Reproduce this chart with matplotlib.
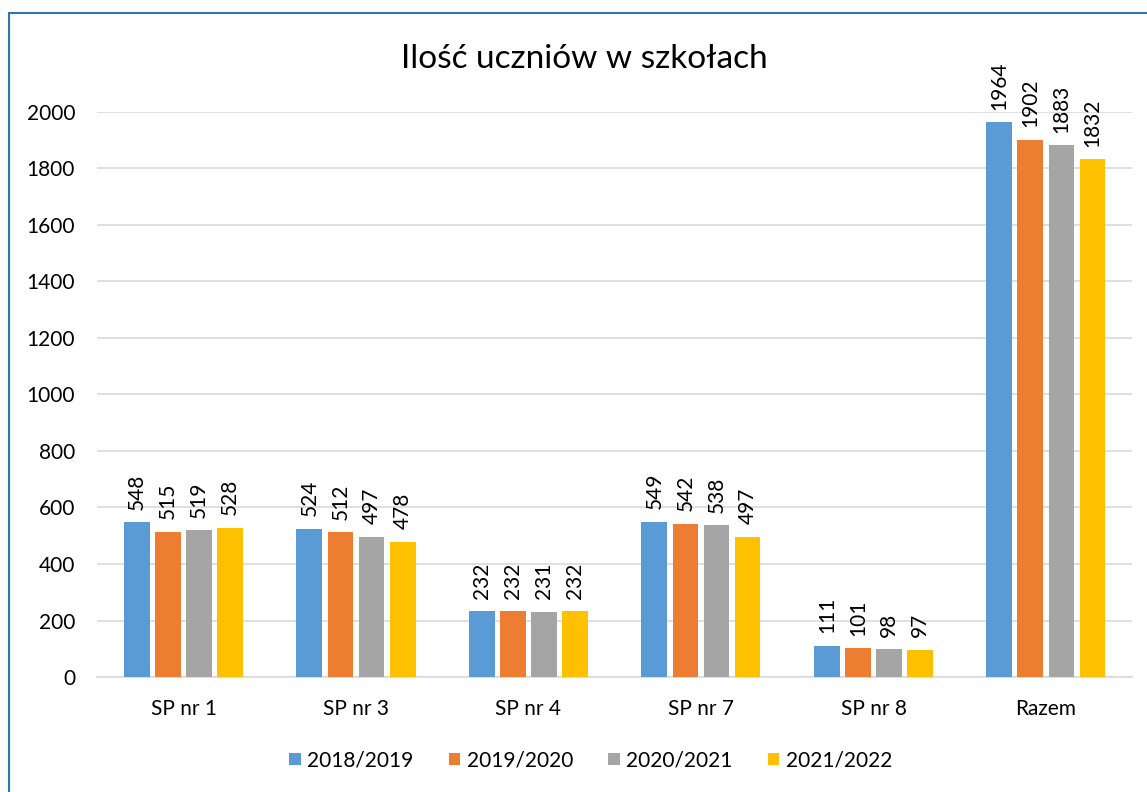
import numpy as np
import matplotlib.pyplot as plt
from matplotlib.patches import Rectangle

plt.rcParams['font.family'] = ['Lato', 'DejaVu Sans']

schools = ['SP nr 1', 'SP nr 3', 'SP nr 4', 'SP nr 7', 'SP nr 8', 'Razem']
years = ['2018/2019', '2019/2020', '2020/2021', '2021/2022']
v2018 = [548, 524, 232, 549, 111, 1964]
v2019 = [515, 512, 232, 542, 101, 1902]
v2020 = [519, 497, 231, 538, 98, 1883]
v2021 = [528, 478, 232, 497, 97, 1832]
colors = ['#5b9bd5', '#ed7d31', '#a5a5a5', '#ffc000']

series = [v2018, v2019, v2020, v2021]

fig = plt.figure(figsize=(11.47, 7.92), dpi=100)
ax = fig.add_axes([0.0848, 0.1452, 0.9023, 0.7134])

x = np.arange(len(schools))
w = 0.15
step = 0.18
for i, (vals, col, lab) in enumerate(zip(series, colors, years)):
    pos = x + (i - 1.5) * step
    bars = ax.bar(pos, vals, width=w, color=col, label=lab, zorder=3)
    for b, v in zip(bars, vals):
        ax.annotate(str(v), (b.get_x() + b.get_width() / 2, v), xytext=(0, 9),
                    textcoords='offset points', rotation=90, ha='center', va='bottom',
                    fontsize=15, color='#000000', annotation_clip=False)

ax.set_xlim(-0.5, len(schools) - 0.5)
ax.set_ylim(0, 2000)
ax.set_yticks(range(0, 2001, 200))
ax.set_xticks(x)
ax.set_xticklabels(schools)
ax.tick_params(axis='both', length=0, labelsize=15, colors='#000000')
ax.tick_params(axis='x', pad=16)
ax.tick_params(axis='y', pad=16)
ax.grid(axis='y', color='#d9d9d9', linewidth=1.2, zorder=0)
for s in ['top', 'right', 'left']:
    ax.spines[s].set_visible(False)
ax.spines['bottom'].set_color('#d9d9d9')
ax.spines['bottom'].set_linewidth(1.2)

fig.text(0.509, 0.925, 'Ilość uczniów w szkołach', ha='center', va='center', fontsize=24)

leg = fig.legend(loc='center', bbox_to_anchor=(0.515, 0.04), ncol=4, frameon=False,
                 fontsize=15, handlelength=0.55, handleheight=0.55, handletextpad=0.3,
                 columnspacing=1.7)

fig.patches.append(Rectangle((9 / 1147, -0.1), 1.2, 1 - 13 / 792 + 0.1, transform=fig.transFigure,
                             fill=False, edgecolor='#2e75b6', linewidth=1.5, zorder=10))

fig.savefig('out.png', dpi=100)
